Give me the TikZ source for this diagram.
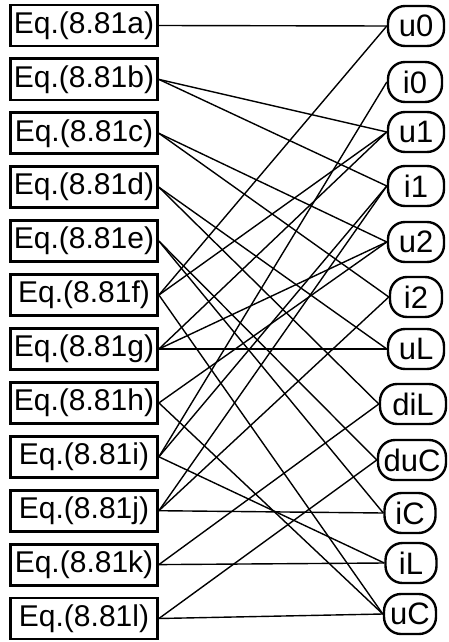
\documentclass[tikz,border=0pt]{standalone}
\usepackage{fontspec}
\setmainfont{Liberation Sans}
\begin{document}
\begin{tikzpicture}[x=1pt,y=-1pt,
  eqbox/.style={draw, line width=2.8pt, minimum width=147pt, minimum height=41pt,
    inner sep=0pt, font=\fontsize{30}{31}\selectfont},
  varnode/.style={draw, line width=2.4pt, rounded corners=17pt, minimum height=40pt,
    inner sep=0pt, font=\fontsize{31}{32}\selectfont},
  link/.style={line width=1.4pt}]
\useasboundingbox (0,0) rectangle (449,642);

% equations
\node[eqbox] (ea) at (84,25.5)  {Eq.(8.81a)};
\node[eqbox] (eb) at (84,79.4)  {Eq.(8.81b)};
\node[eqbox] (ec) at (84,133.3) {Eq.(8.81c)};
\node[eqbox] (ed) at (84,187.2) {Eq.(8.81d)};
\node[eqbox] (ee) at (84,241.1) {Eq.(8.81e)};
\node[eqbox] (ef) at (84,295.0) {Eq.(8.81f)};
\node[eqbox] (eg) at (84,349.0) {Eq.(8.81g)};
\node[eqbox] (eh) at (84,402.9) {Eq.(8.81h)};
\node[eqbox] (ei) at (84,456.8) {Eq.(8.81i)};
\node[eqbox] (ej) at (84,510.7) {Eq.(8.81j)};
\node[eqbox] (ek) at (84,564.6) {Eq.(8.81k)};
\node[eqbox] (el) at (84,618.5) {Eq.(8.81l)};

% variables
\node[varnode, minimum width=56pt] (u0)  at (416,26)  {u0};
\node[varnode, minimum width=54pt] (i0)  at (415,82)  {i0};
\node[varnode, minimum width=56pt] (u1)  at (416,132) {u1};
\node[varnode, minimum width=56pt] (i1)  at (416,186) {i1};
\node[varnode, minimum width=56pt] (u2)  at (416,242) {u2};
\node[varnode, minimum width=52pt] (i2)  at (416,297) {i2};
\node[varnode, minimum width=56pt] (uL)  at (416,349) {uL};
\node[varnode, minimum width=66pt] (diL) at (413,404) {diL};
\node[varnode, minimum width=68pt] (duC) at (412,460) {duC};
\node[varnode, minimum width=51pt] (iC)  at (410,513) {iC};
\node[varnode, minimum width=51pt] (iL)  at (411,563) {iL};
\node[varnode, minimum width=52pt] (uC)  at (410,614) {uC};

% incidence between equations and variables
\foreach \e/\v in {ea/u0, eb/u1, eb/i1, ec/u2, ec/i2, ed/uL, ed/diL,
                   ee/duC, ee/iC, ef/u0, ef/u1, ef/uC, eg/uL, eg/u2, eg/u1,
                   eh/u2, eh/uC, ei/i0, ei/i1, ei/iL, ej/iC, ej/i2, ej/i1,
                   ek/iL, ek/diL, el/uC, el/duC}
  \draw[link] (\e.east) -- (\v.west);
\end{tikzpicture}
\end{document}
